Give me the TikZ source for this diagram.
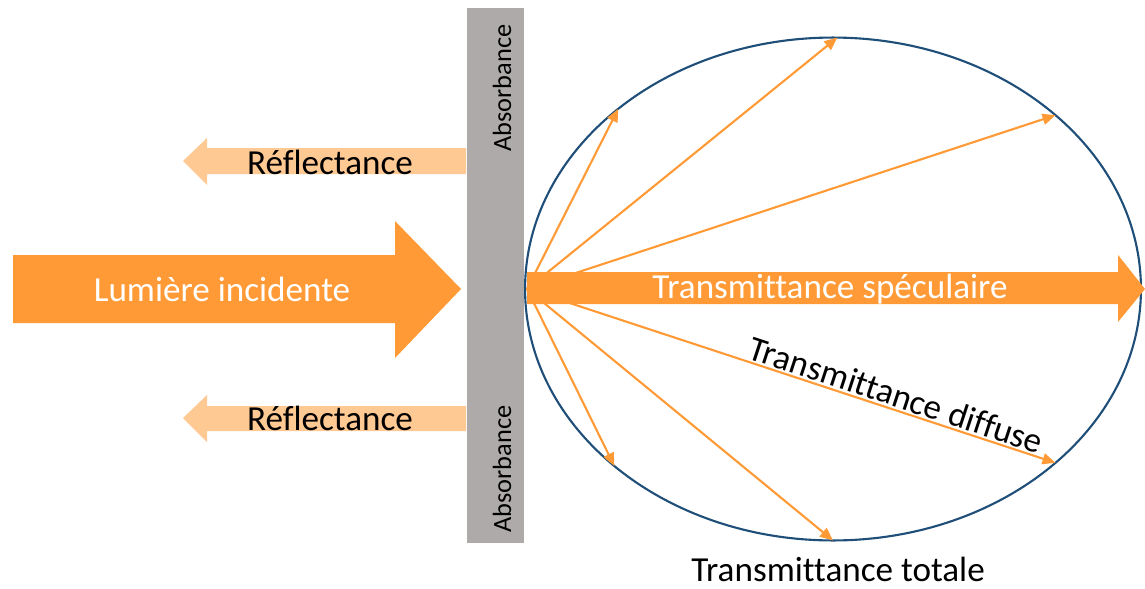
\documentclass[tikz,border=0pt]{standalone}
\usepackage{fontspec}
\setmainfont{Carlito}[Ligatures=NoCommon]
\usetikzlibrary{arrows.meta,shapes.geometric}

\definecolor{lightorange}{HTML}{FF9A36}
\definecolor{peach}{HTML}{FFC994}
\definecolor{slabgray}{HTML}{AEAAAA}
\definecolor{spherblue}{HTML}{1F4E79}

\begin{document}
\begin{tikzpicture}[
		x=0.02cm, y=-0.02cm,
		bigarrow/.style={fill=lightorange, draw=none},
		reflarrow/.style={fill=peach, draw=none},
		ray/.style={draw=lightorange, line width=1.2pt,
			-{Triangle[length=2.6mm,width=2.2mm]}},
		txt/.style={font=\fontsize{20}{24}\selectfont, inner sep=1pt},
		abstxt/.style={font=\fontsize{15}{18}\selectfont, rotate=90, inner sep=1pt}
		]
		
		\useasboundingbox (0,0) rectangle (1145,588);
		
		% Integrating sphere
		\node[draw=spherblue, line width=1.2pt, ellipse, minimum width=12.32cm,
			minimum height=10.06cm, inner sep=0pt, outer sep=0pt] (sphere) at (833,289) {};
		
		% Diffuse rays
		\coordinate (origin) at (527,289);
		\draw[ray] (origin) -- (sphere.140.6);
		\draw[ray] (origin) -- (sphere.89.6);
		\draw[ray] (origin) -- (sphere.38.6);
		\draw[ray] (origin) -- (sphere.-38.1)
			node[pos=0.69, sloped, above, txt, inner sep=1pt] (diffuse) {Transmittance diffuse};
		\draw[ray] (origin) -- (sphere.-90);
		\draw[ray] (origin) -- (sphere.-141.9);
		
		% Specular transmission
		\fill[bigarrow] (527,272) -- (1118,272) -- (1118,255) -- (1145,289)
			-- (1118,322) -- (1118,304) -- (527,304) -- cycle;
		\node[txt, text=white] (specular) at (830,289) {Transmittance spéculaire};
		
		% Sample
		\node[fill=slabgray, draw=none, minimum width=1.14cm, minimum height=10.7cm,
			inner sep=0pt, outer sep=0pt] (slab) at (495.5,275.5) {};
		\node[abstxt] (abstop) at (502,88) {Absorbance};
		\node[abstxt] (absbottom) at (502,469) {Absorbance};
		
		% Incident light
		\fill[bigarrow] (13,255) -- (395,255) -- (395,221) -- (461,289)
			-- (395,358) -- (395,323) -- (13,323) -- cycle;
		\node[txt, text=white] (incident) at (222,289) {Lumière incidente};
		
		% Reflection
		\fill[reflarrow] (466,148) -- (207,148) -- (207,138) -- (183,161)
			-- (207,185) -- (207,174) -- (466,174) -- cycle;
		\node[txt] (refltop) at (330,162) {Réflectance};
		
		\fill[reflarrow] (466,406) -- (207,406) -- (207,395) -- (183,418)
			-- (207,442) -- (207,431) -- (466,431) -- cycle;
		\node[txt] (reflbottom) at (330,418) {Réflectance};
		
		% Total
		\node[txt, inner sep=0pt] (total) at (838,569) {Transmittance totale};
		
	\end{tikzpicture}
\end{document}
